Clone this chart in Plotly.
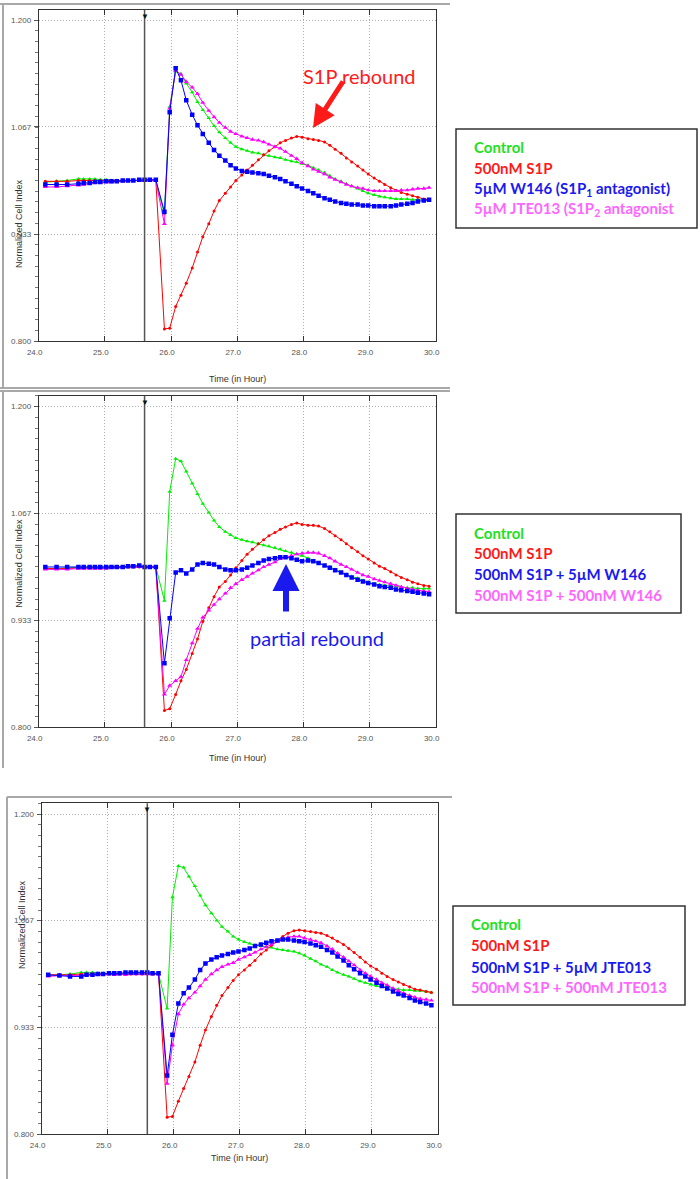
import plotly.graph_objects as go

W, H = 700, 1179

# time points (hours)
TIME = [24.10, 24.27, 24.43, 24.60, 24.68, 24.77, 24.85, 24.93, 25.02, 25.10,
        25.18, 25.27, 25.35, 25.43, 25.52, 25.60, 25.68, 25.77, 25.90, 25.98,
        26.07, 26.15, 26.23, 26.32, 26.40, 26.48, 26.57, 26.65, 26.73, 26.82,
        26.90, 26.98, 27.07, 27.15, 27.23, 27.32, 27.40, 27.48, 27.57, 27.65,
        27.73, 27.82, 27.90, 27.98, 28.07, 28.15, 28.23, 28.32, 28.40, 28.48,
        28.57, 28.65, 28.73, 28.82, 28.90, 28.98, 29.07, 29.15, 29.23, 29.32,
        29.40, 29.48, 29.57, 29.65, 29.73, 29.82, 29.90]
ADD_TIME = 25.6

# ---- panel 1 ----
p1_control = [0.998, 0.999, 1.000, 1.002, 1.002, 1.002, 1.002, 1.001, 1.001, 1.000,
              1.000, 1.000, 1.000, 1.000, 1.000, 1.000, 1.000, 1.000, 0.958, 1.092,
              1.136, 1.133, 1.121, 1.110, 1.098, 1.088, 1.078, 1.068, 1.060, 1.053,
              1.047, 1.042, 1.039, 1.037, 1.035, 1.034, 1.032, 1.031, 1.029, 1.028,
              1.026, 1.024, 1.023, 1.021, 1.019, 1.016, 1.013, 1.010, 1.006, 1.002,
              0.999, 0.996, 0.993, 0.990, 0.987, 0.984, 0.982, 0.980, 0.979, 0.978,
              0.977, 0.977, 0.977, 0.976, 0.976, 0.976, 0.976]
p1_s1p = [0.999, 0.999, 0.999, 1.000, 1.000, 1.000, 1.000, 1.000, 1.000, 1.000,
          1.000, 1.000, 1.000, 1.000, 1.000, 1.000, 1.000, 1.000, 0.815, 0.816,
          0.843, 0.857, 0.872, 0.891, 0.911, 0.930, 0.946, 0.962, 0.975, 0.984,
          0.992, 1.000, 1.007, 1.013, 1.019, 1.026, 1.032, 1.037, 1.042, 1.047,
          1.050, 1.053, 1.055, 1.054, 1.052, 1.051, 1.050, 1.048, 1.044, 1.039,
          1.034, 1.028, 1.023, 1.018, 1.013, 1.008, 1.003, 0.999, 0.995, 0.991,
          0.988, 0.985, 0.983, 0.981, 0.979, 0.977, 0.976]
p1_w146 = [0.995, 0.995, 0.995, 0.996, 0.997, 0.997, 0.998, 0.998, 0.999, 0.999,
           0.999, 1.000, 1.000, 1.000, 1.001, 1.001, 1.001, 1.001, 0.961, 1.085,
           1.140, 1.125, 1.100, 1.082, 1.069, 1.058, 1.047, 1.038, 1.031, 1.025,
           1.019, 1.015, 1.012, 1.011, 1.010, 1.009, 1.008, 1.006, 1.004, 1.002,
           0.999, 0.996, 0.993, 0.990, 0.987, 0.984, 0.981, 0.978, 0.976, 0.974,
           0.972, 0.971, 0.970, 0.970, 0.969, 0.969, 0.968, 0.968, 0.968, 0.968,
           0.969, 0.970, 0.971, 0.972, 0.974, 0.975, 0.976]
p1_jte = [0.992, 0.992, 0.993, 0.994, 0.995, 0.996, 0.997, 0.997, 0.998, 0.998,
          0.999, 0.999, 1.000, 1.000, 1.000, 1.000, 1.000, 1.000, 0.946, 1.090,
          1.137, 1.132, 1.123, 1.116, 1.108, 1.097, 1.087, 1.079, 1.072, 1.066,
          1.061, 1.058, 1.055, 1.053, 1.051, 1.050, 1.048, 1.045, 1.042, 1.040,
          1.036, 1.031, 1.027, 1.022, 1.018, 1.014, 1.011, 1.008, 1.004, 1.001,
          0.998, 0.995, 0.993, 0.991, 0.990, 0.988, 0.987, 0.987, 0.987, 0.987,
          0.987, 0.988, 0.988, 0.989, 0.990, 0.990, 0.991]

# ---- panel 2 ----
p2_control = [0.998, 0.998, 0.999, 1.000, 1.000, 1.000, 1.000, 1.000, 1.000, 1.000,
              1.000, 1.000, 1.000, 1.000, 1.000, 1.000, 1.000, 1.000, 0.958, 1.094,
              1.135, 1.132, 1.119, 1.104, 1.091, 1.079, 1.068, 1.058, 1.050, 1.044,
              1.040, 1.036, 1.034, 1.032, 1.031, 1.029, 1.027, 1.026, 1.024, 1.022,
              1.020, 1.018, 1.016, 1.014, 1.011, 1.008, 1.005, 1.002, 1.000, 0.997,
              0.993, 0.990, 0.988, 0.986, 0.983, 0.981, 0.979, 0.978, 0.977, 0.976,
              0.976, 0.975, 0.974, 0.974, 0.973, 0.973, 0.973]
p2_s1p = [0.998, 0.998, 0.998, 0.999, 0.999, 0.999, 0.999, 0.999, 0.999, 1.000,
          1.000, 1.000, 1.000, 1.000, 1.000, 1.000, 1.000, 1.000, 0.821, 0.823,
          0.841, 0.858, 0.872, 0.892, 0.910, 0.932, 0.949, 0.963, 0.975, 0.982,
          0.990, 0.999, 1.008, 1.016, 1.022, 1.029, 1.034, 1.039, 1.043, 1.047,
          1.050, 1.053, 1.055, 1.053, 1.052, 1.052, 1.051, 1.048, 1.044, 1.039,
          1.034, 1.029, 1.024, 1.019, 1.014, 1.010, 1.005, 1.001, 0.998, 0.994,
          0.990, 0.987, 0.984, 0.981, 0.979, 0.977, 0.976]
p2_w146_5um = [1.000, 1.000, 1.000, 1.000, 1.000, 1.000, 1.000, 1.000, 1.000, 1.000,
               1.000, 1.000, 1.001, 1.001, 1.002, 1.000, 1.000, 1.000, 0.880, 0.936,
               0.993, 0.996, 0.992, 0.997, 1.003, 1.005, 1.004, 1.003, 1.000, 0.997,
               0.996, 0.996, 0.997, 0.999, 1.002, 1.005, 1.008, 1.010, 1.011, 1.012,
               1.012, 1.011, 1.009, 1.007, 1.008, 1.007, 1.005, 1.002, 0.999, 0.996,
               0.993, 0.990, 0.987, 0.984, 0.982, 0.980, 0.978, 0.976, 0.975, 0.974,
               0.972, 0.971, 0.970, 0.969, 0.968, 0.967, 0.966]
p2_w146_500nm = [0.997, 0.997, 0.997, 0.998, 0.998, 0.998, 0.998, 0.998, 0.998, 0.999,
                 0.999, 0.999, 1.000, 1.000, 1.000, 1.000, 1.000, 1.000, 0.841, 0.852,
                 0.858, 0.863, 0.884, 0.905, 0.923, 0.937, 0.946, 0.953, 0.960, 0.967,
                 0.974, 0.979, 0.984, 0.988, 0.992, 0.996, 1.000, 1.003, 1.006, 1.010,
                 1.012, 1.014, 1.016, 1.017, 1.018, 1.018, 1.017, 1.014, 1.011, 1.007,
                 1.003, 1.000, 0.997, 0.993, 0.990, 0.988, 0.985, 0.983, 0.981, 0.979,
                 0.977, 0.975, 0.973, 0.972, 0.971, 0.970, 0.969]

# ---- panel 3 ----
p3_control = [0.998, 0.999, 1.000, 1.002, 1.002, 1.002, 1.001, 1.001, 1.000, 1.000,
              1.000, 1.000, 1.000, 1.000, 1.000, 1.000, 1.000, 1.000, 0.957, 1.096,
              1.135, 1.133, 1.122, 1.110, 1.098, 1.086, 1.076, 1.067, 1.059, 1.053,
              1.047, 1.043, 1.040, 1.038, 1.036, 1.035, 1.034, 1.033, 1.031, 1.030,
              1.029, 1.028, 1.026, 1.023, 1.019, 1.016, 1.012, 1.009, 1.005, 1.002,
              0.999, 0.997, 0.994, 0.991, 0.989, 0.987, 0.985, 0.984, 0.983, 0.982,
              0.981, 0.980, 0.980, 0.979, 0.979, 0.978, 0.977]
p3_s1p = [0.999, 0.999, 0.999, 1.000, 1.000, 1.000, 1.000, 1.000, 1.000, 1.000,
          1.000, 1.000, 1.000, 1.000, 1.000, 1.000, 1.000, 1.000, 0.821, 0.822,
          0.841, 0.857, 0.872, 0.890, 0.911, 0.930, 0.947, 0.961, 0.973, 0.983,
          0.992, 0.999, 1.005, 1.011, 1.017, 1.025, 1.030, 1.036, 1.042, 1.047,
          1.051, 1.054, 1.055, 1.054, 1.053, 1.052, 1.051, 1.048, 1.045, 1.041,
          1.037, 1.032, 1.027, 1.021, 1.015, 1.010, 1.006, 1.001, 0.997, 0.993,
          0.990, 0.987, 0.984, 0.981, 0.980, 0.978, 0.977]
p3_jte_5um = [0.999, 0.998, 0.997, 0.997, 0.999, 0.999, 1.000, 1.000, 1.001, 1.001,
              1.001, 1.002, 1.002, 1.002, 1.002, 1.002, 1.001, 1.001, 0.873, 0.924,
              0.963, 0.976, 0.983, 0.993, 1.005, 1.013, 1.018, 1.021, 1.023, 1.025,
              1.027, 1.028, 1.030, 1.032, 1.035, 1.037, 1.039, 1.041, 1.042, 1.043,
              1.043, 1.042, 1.041, 1.040, 1.038, 1.036, 1.034, 1.030, 1.027, 1.022,
              1.017, 1.011, 1.006, 1.001, 0.997, 0.993, 0.989, 0.985, 0.982, 0.978,
              0.975, 0.973, 0.970, 0.967, 0.965, 0.963, 0.961]
p3_jte_500nm = [0.997, 0.998, 0.998, 0.998, 0.999, 0.999, 0.999, 0.999, 1.000, 0.999,
                1.000, 0.999, 1.000, 1.000, 1.000, 1.000, 1.000, 1.000, 0.863, 0.911,
                0.950, 0.962, 0.970, 0.977, 0.985, 0.993, 1.000, 1.005, 1.009, 1.012,
                1.014, 1.018, 1.021, 1.024, 1.027, 1.031, 1.034, 1.037, 1.041, 1.044,
                1.046, 1.047, 1.047, 1.045, 1.043, 1.041, 1.039, 1.035, 1.031, 1.026,
                1.021, 1.016, 1.011, 1.005, 1.001, 0.997, 0.993, 0.989, 0.986, 0.982,
                0.979, 0.976, 0.973, 0.971, 0.969, 0.968, 0.967]

GREEN, RED, BLUE, MAGENTA = "#00ee00", "#ff0000", "#0000ff", "#ff00ff"
TXT_GREEN, TXT_RED, TXT_BLUE, TXT_PINK = "#22e022", "#ff1a1a", "#1a1aee", "#ff66ff"

panels = [
    dict(series=[p1_control, p1_s1p, p1_jte, p1_w146],
         xpx=(38.7, 435.7), ypx=(10, 341), ytop=1.2125,
         legend=["Control", "500nM S1P", "5µM W146 (S1P<sub>1</sub> antagonist)",
                 "5µM JTE013 (S1P<sub>2</sub> antagonist"],
         box=(456, 129, 697, 228), lines_y=(147, 168, 189, 209), text_x=472),
    dict(series=[p2_control, p2_s1p, p2_w146_500nm, p2_w146_5um],
         xpx=(38.7, 435.7), ypx=(396, 727.3), ytop=1.2133,
         legend=["Control", "500nM S1P", "500nM S1P + 5µM W146", "500nM S1P + 500nM W146"],
         box=(456, 514, 681, 613), lines_y=(533, 553, 574, 595), text_x=472),
    dict(series=[p3_control, p3_s1p, p3_jte_500nm, p3_jte_5um],
         xpx=(41.6, 438), ypx=(803.3, 1134), ytop=1.2134,
         legend=["Control", "500nM S1P", "500nM S1P + 5µM JTE013", "500nM S1P + 500nM JTE013"],
         box=(453, 906, 685, 1005), lines_y=(924, 945, 967, 987), text_x=469),
]
# styles: control, s1p, magenta, blue  (blue drawn last)
styles = [(GREEN, "triangle-up", 4), (RED, "circle", 3), (MAGENTA, "triangle-up", 4.5),
          (BLUE, "square", 4.5)]
legend_colors = [TXT_GREEN, TXT_RED, TXT_BLUE, TXT_PINK]


def fx(x):
    return x / W


def fy(y):
    return 1 - y / H


fig = go.Figure()
shapes = []
annotations = []
tick_font = dict(family="Liberation Sans, Arial", size=8, color="#555555")
GRID_DASH = "1px,2px"

for i, p in enumerate(panels):
    n = "" if i == 0 else str(i + 1)
    xa, ya = "x" + n, "y" + n
    for vals, (col, sym, sz) in zip(p["series"], styles):
        fig.add_trace(go.Scatter(
            x=TIME, y=vals, mode="lines+markers", xaxis=xa, yaxis=ya,
            line=dict(color=col, width=1),
            marker=dict(symbol=sym, size=sz, color=col, line=dict(width=0)),
            showlegend=False, hoverinfo="skip"))

    xdom = [fx(p["xpx"][0]), fx(p["xpx"][1])]
    ydom = [fy(p["ypx"][1]), fy(p["ypx"][0])]
    fig.update_layout(**{
        "xaxis" + n: dict(
            domain=xdom, range=[24, 30], anchor=ya, automargin=False,
            tickvals=[24, 25, 26, 27, 28, 29, 30],
            ticktext=["24.0", "25.0", "26.0", "27.0", "28.0", "29.0", "30.0"],
            ticks="inside", ticklen=5, tickcolor="#333", mirror="ticks",
            showline=True, linecolor="#333", linewidth=1,
            showgrid=True, gridcolor="#b0b0b0", griddash=GRID_DASH, gridwidth=1,
            tickfont=tick_font, ticklabelshift=-4, ticklabelstandoff=3,
            zeroline=False, fixedrange=True),
        "yaxis" + n: dict(
            domain=ydom, range=[0.8, p["ytop"]], anchor=xa, automargin=False,
            tickvals=[0.8, 0.9333, 1.0667, 1.2],
            ticktext=["0.800", "0.933", "1.067", "1.200"],
            ticks="outside", ticklen=4, tickcolor="#555",
            minor=dict(tick0=0.8, dtick=0.4 / 30, ticks="outside", ticklen=3,
                       tickcolor="#777", showgrid=False),
            showline=True, linecolor="#333", linewidth=1, mirror=True,
            showgrid=True, gridcolor="#b0b0b0", griddash=GRID_DASH, gridwidth=1,
            tickfont=tick_font, ticklabelstandoff=1,
            zeroline=False, fixedrange=True),
    })

    # compound addition marker
    shapes.append(dict(type="line", xref=xa, yref=ya + " domain", x0=ADD_TIME, x1=ADD_TIME,
                       y0=0, y1=1, line=dict(color="#555555", width=1.5)))
    annotations.append(dict(xref=xa, yref=ya + " domain", x=ADD_TIME, y=1, yanchor="top",
                            yshift=2, text="▼", showarrow=False,
                            font=dict(size=8, color="#111")))

    # axis titles
    cx = (p["xpx"][0] + p["xpx"][1]) / 2
    annotations.append(dict(xref="paper", yref="paper", x=fx(cx), y=fy(p["ypx"][1] + 31),
                            text="Time (in Hour)", showarrow=False,
                            font=dict(family="Liberation Sans, Arial", size=9, color="#333")))
    annotations.append(dict(xref="paper", yref="paper", x=fx(12 + (p["xpx"][0] - 38.7)),
                            y=fy((p["ypx"][0] + p["ypx"][1]) / 2 + 2), textangle=-90,
                            text="Normalized Cell Index", showarrow=False,
                            font=dict(family="Liberation Sans, Arial", size=9, color="#333")))

    # legend box
    x0, y0, x1, y1 = p["box"]
    shapes.append(dict(type="rect", xref="paper", yref="paper", x0=fx(x0), x1=fx(x1),
                       y0=fy(y1), y1=fy(y0), line=dict(color="#333333", width=1.5)))
    for txt, col, ly in zip(p["legend"], legend_colors, p["lines_y"]):
        annotations.append(dict(xref="paper", yref="paper", x=fx(p["text_x"]), y=fy(ly),
                                xanchor="left", yanchor="middle", text="<b>" + txt + "</b>",
                                showarrow=False,
                                font=dict(family="Lato, Open Sans", size=15, color=col)))

# panel frames
frame = dict(color="#a8a8a8", width=2)
for (xa0, ya0, xa1, ya1) in [(0, 4, 450, 4), (3, 4, 3, 387), (0, 388, 450, 388),
                             (0, 391, 450, 391), (3, 391, 3, 768),
                             (7, 797, 452, 797), (7, 797, 7, 1179)]:
    shapes.append(dict(type="line", xref="paper", yref="paper", x0=fx(xa0), x1=fx(xa1),
                       y0=fy(ya0), y1=fy(ya1), line=frame))

# call-outs
annotations.append(dict(xref="paper", yref="paper", x=fx(360), y=fy(62), text="S1P rebound",
                        showarrow=False, font=dict(family="Lato, Open Sans", size=20, color="#ff1a1a")))
annotations.append(dict(xref="paper", yref="paper", x=fx(313), y=fy(128), ax=31, ay=-48,
                        text="", showarrow=True, arrowhead=2, arrowsize=0.9, arrowwidth=5,
                        arrowcolor="#ff1a1a"))
annotations.append(dict(xref="paper", yref="paper", x=fx(317), y=fy(638), text="partial rebound",
                        showarrow=False, font=dict(family="Lato, Open Sans", size=20, color="#1a1aee")))
annotations.append(dict(xref="paper", yref="paper", x=fx(286), y=fy(564), ax=0, ay=49,
                        text="", showarrow=True, arrowhead=2, arrowsize=0.9, arrowwidth=6,
                        arrowcolor="#1a1aee"))

fig.update_layout(width=W, height=H, margin=dict(l=0, r=0, t=0, b=0),
                  paper_bgcolor="white", plot_bgcolor="white",
                  shapes=shapes, annotations=annotations)

fig.write_html("out.html", config={"displayModeBar": False},
               post_script="document.body.style.margin='0';")
